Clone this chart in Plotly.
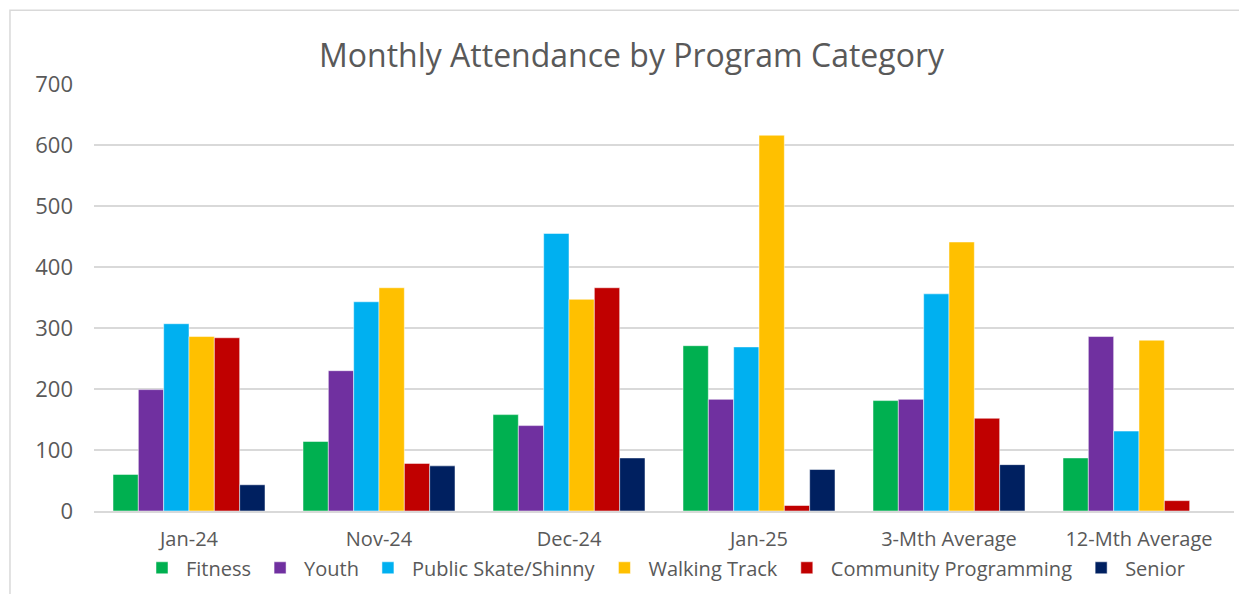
import plotly.graph_objects as go

categories = ["Jan-24", "Nov-24", "Dec-24", "Jan-25", "3-Mth Average", "12-Mth Average"]

fitness = [60, 114, 158, 271, 181, 87]
youth = [199, 230, 140, 183, 183, 286]
public_skate = [307, 343, 455, 269, 356, 131]
walking_track = [286, 366, 347, 616, 441, 280]
community = [284, 78, 366, 9, 152, 17]
senior = [43, 74, 87, 68, 76, 0]

series = [
    ("Fitness", fitness, "#00B050"),
    ("Youth", youth, "#7030A0"),
    ("Public Skate/Shinny", public_skate, "#00B0F0"),
    ("Walking Track", walking_track, "#FFC000"),
    ("Community Programming", community, "#C00000"),
    ("Senior", senior, "#002060"),
]

font_family = "Open Sans, Roboto, sans-serif"
text_col = "#595959"

fig = go.Figure()
for name, vals, col in series:
    fig.add_bar(x=categories, y=vals, name=name,
                marker=dict(color=col, line=dict(color="white", width=0.5)))

# thin chart-area border, like the Excel frame
fig.add_shape(type="rect", xref="paper", yref="paper",
              x0=-0.0737, x1=1.2, y0=-0.5, y1=1.173,
              line=dict(color="#d9d9d9", width=1.5), layer="below")

# page body adds 8px offset, so margins are shifted to compensate
fig.update_layout(
    width=1247, height=594,
    margin=dict(l=86, r=21, t=76, b=91, autoexpand=False),
    plot_bgcolor="white",
    paper_bgcolor="white",
    barmode="group",
    bargap=0.2,
    bargroupgap=0,
    title=dict(text="Monthly Attendance by Program Category",
               x=0.5, xref="container", xanchor="center",
               y=0.92, yanchor="middle",
               font=dict(family=font_family, size=32, color=text_col)),
    font=dict(family=font_family, size=20, color=text_col),
    xaxis=dict(showgrid=False, showline=True, linecolor="#d9d9d9", linewidth=1.5,
               ticks="", ticklabelstandoff=9,
               tickfont=dict(size=20, color=text_col)),
    yaxis=dict(range=[0, 700], dtick=100, showgrid=True, gridcolor="#d9d9d9",
               gridwidth=1.5, zeroline=False, showline=False, ticks="",
               ticklabelstandoff=20,
               tickfont=dict(size=22, color=text_col)),
    legend=dict(orientation="h", x=0.5, xanchor="center", y=-0.133, yanchor="middle",
                font=dict(size=20, color=text_col), itemwidth=38,
                traceorder="normal", bgcolor="rgba(0,0,0,0)"),
)

fig.write_html("out.html")
